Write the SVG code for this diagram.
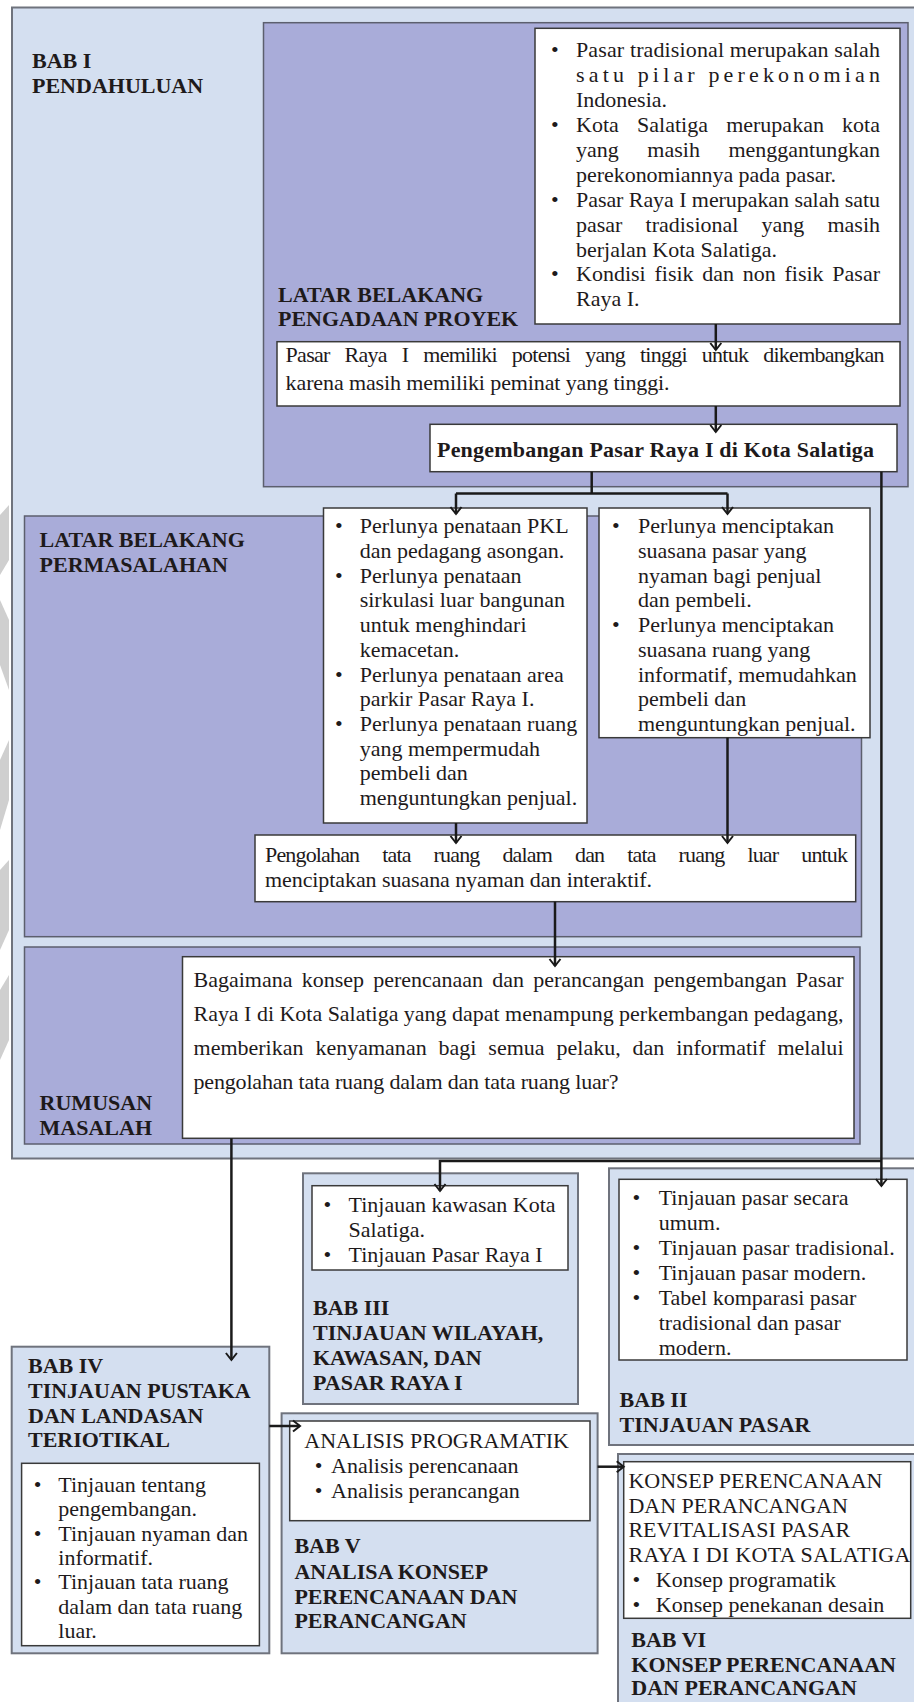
<svg xmlns="http://www.w3.org/2000/svg" width="914" height="1702" viewBox="0 0 914 1702">
<style>
.blue{fill:#d4dff0;stroke:#6f737d;stroke-width:2}
.purple{fill:#a9acd9;stroke:#5c5f6e;stroke-width:1.5}
.white{fill:#ffffff;stroke:#3a3a3a;stroke-width:1.5}
.h{font-family:"Liberation Serif",serif;font-weight:bold;font-size:22px;fill:#1e1a1b}
.t{font-family:"Liberation Serif",serif;font-size:22px;fill:#1e1a1b}
.c{fill:none;stroke:#1a1a1a;stroke-width:2.5}
.wm{fill:#cfcfcf}
</style>
<defs>
<marker id="ah" viewBox="-9 -7 11 14" refX="0" refY="0" markerWidth="11" markerHeight="14" markerUnits="userSpaceOnUse" orient="auto">
<path d="M-7,-5.5 L0,0 L-7,5.5" fill="none" stroke="#1a1a1a" stroke-width="2"/>
</marker>
</defs>
<rect x="0" y="0" width="914" height="1702" fill="#ffffff"/>
<g id="watermark">
<path class="wm" d="M0,515 L9,505 L9,560 L0,575 Z"/>
<path class="wm" d="M0,600 L9,620 L9,690 L0,665 Z"/>
<path class="wm" d="M0,760 L9,740 L9,800 L0,830 Z"/>
<path class="wm" d="M0,870 L9,860 L9,930 L0,950 Z"/>
<path class="wm" d="M0,990 L9,975 L9,1040 L0,1060 Z"/>
</g>
<g id="bab1">
<rect class="blue" x="12" y="7.5" width="920" height="1151"/>
<text class="h" x="32" y="68">BAB I</text>
<text class="h" x="32" y="93">PENDAHULUAN</text>
</g>
<g id="pengadaan">
<rect class="purple" x="263.5" y="22.7" width="644.5" height="464"/>
<text class="h" x="278" y="301.7">LATAR BELAKANG</text>
<text class="h" x="278" y="326">PENGADAAN PROYEK</text>
</g>
<g id="latar-list">
<rect class="white" x="535" y="28.3" width="365" height="295.7"/>
<text class="t" x="551" y="57.3">•</text>
<text class="t" x="576" y="57.3" textLength="304" lengthAdjust="spacing">Pasar tradisional merupakan salah</text>
<text class="t" x="576" y="82.2" textLength="304" lengthAdjust="spacing">satu pilar perekonomian</text>
<text class="t" x="576" y="107.1">Indonesia.</text>
<text class="t" x="551" y="132">•</text>
<text class="t" x="576" y="132" word-spacing="12.7" textLength="304" lengthAdjust="spacing">Kota Salatiga merupakan kota</text>
<text class="t" x="576" y="156.9" word-spacing="23" textLength="304" lengthAdjust="spacing">yang masih menggantungkan</text>
<text class="t" x="576" y="181.8" textLength="260" lengthAdjust="spacing">perekonomiannya pada pasar.</text>
<text class="t" x="551" y="206.7">•</text>
<text class="t" x="576" y="206.7" textLength="304" lengthAdjust="spacing">Pasar Raya I merupakan salah satu</text>
<text class="t" x="576" y="231.6" word-spacing="17.6" textLength="304" lengthAdjust="spacing">pasar tradisional yang masih</text>
<text class="t" x="576" y="256.5" textLength="201" lengthAdjust="spacing">berjalan Kota Salatiga.</text>
<text class="t" x="551" y="281.4">•</text>
<text class="t" x="576" y="281.4" word-spacing="3.2" textLength="304" lengthAdjust="spacing">Kondisi fisik dan non fisik Pasar</text>
<text class="t" x="576" y="306.3">Raya I.</text>
</g>
<g id="potensi">
<rect class="white" x="277" y="341.7" width="623" height="64.3"/>
<text class="t" x="285.6" y="362" word-spacing="10.2" textLength="599" lengthAdjust="spacing">Pasar Raya I memiliki potensi yang tinggi untuk dikembangkan</text>
<text class="t" x="285.6" y="390" textLength="384" lengthAdjust="spacing">karena masih memiliki peminat yang tinggi.</text>
</g>
<g id="pengembangan">
<rect class="white" x="430" y="424.3" width="467" height="47.4"/>
<text class="h" x="437" y="456.7" textLength="437" lengthAdjust="spacing">Pengembangan Pasar Raya I di Kota Salatiga</text>
</g>
<g id="permasalahan">
<rect class="purple" x="24.5" y="516" width="837" height="420.7"/>
<text class="h" x="39.6" y="546.7">LATAR BELAKANG</text>
<text class="h" x="39.6" y="571.7">PERMASALAHAN</text>
</g>
<g id="penataan-list">
<rect class="white" x="323.5" y="508" width="263.5" height="315"/>
<text class="t" x="335" y="533.3">•</text>
<text class="t" x="359.7" y="533.3">Perlunya penataan PKL</text>
<text class="t" x="359.7" y="558">dan pedagang asongan.</text>
<text class="t" x="335" y="582.7">•</text>
<text class="t" x="359.7" y="582.7">Perlunya penataan</text>
<text class="t" x="359.7" y="607.4">sirkulasi luar bangunan</text>
<text class="t" x="359.7" y="632.1">untuk menghindari</text>
<text class="t" x="359.7" y="656.8">kemacetan.</text>
<text class="t" x="335" y="681.5">•</text>
<text class="t" x="359.7" y="681.5">Perlunya penataan area</text>
<text class="t" x="359.7" y="706.2">parkir Pasar Raya I.</text>
<text class="t" x="335" y="730.9">•</text>
<text class="t" x="359.7" y="730.9">Perlunya penataan ruang</text>
<text class="t" x="359.7" y="755.6">yang mempermudah</text>
<text class="t" x="359.7" y="780.3">pembeli dan</text>
<text class="t" x="359.7" y="805">menguntungkan penjual.</text>
</g>
<g id="suasana-list">
<rect class="white" x="599" y="508" width="271" height="229.7"/>
<text class="t" x="612" y="533.3">•</text>
<text class="t" x="638" y="533.3">Perlunya menciptakan</text>
<text class="t" x="638" y="558">suasana pasar yang</text>
<text class="t" x="638" y="582.7">nyaman bagi penjual</text>
<text class="t" x="638" y="607.4">dan pembeli.</text>
<text class="t" x="612" y="632.1">•</text>
<text class="t" x="638" y="632.1">Perlunya menciptakan</text>
<text class="t" x="638" y="656.8">suasana ruang yang</text>
<text class="t" x="638" y="681.5">informatif, memudahkan</text>
<text class="t" x="638" y="706.2">pembeli dan</text>
<text class="t" x="638" y="730.9">menguntungkan penjual.</text>
</g>
<g id="pengolahan">
<rect class="white" x="255" y="835" width="600.7" height="66.7"/>
<text class="t" x="265" y="861.7" word-spacing="18.3" textLength="583" lengthAdjust="spacing">Pengolahan tata ruang dalam dan tata ruang luar untuk</text>
<text class="t" x="265" y="886.7" textLength="387" lengthAdjust="spacing">menciptakan suasana nyaman dan interaktif.</text>
</g>
<g id="rumusan">
<rect class="purple" x="24.5" y="947" width="835.5" height="197"/>
<text class="h" x="39.6" y="1110">RUMUSAN</text>
<text class="h" x="39.6" y="1135">MASALAH</text>
</g>
<g id="rumusan-text">
<rect class="white" x="182.5" y="956.7" width="671.5" height="181.6"/>
<text class="t" x="193.5" y="986.7" word-spacing="3.7" textLength="650" lengthAdjust="spacing">Bagaimana konsep perencanaan dan perancangan pengembangan Pasar</text>
<text class="t" x="193.5" y="1021" textLength="650" lengthAdjust="spacingAndGlyphs">Raya I di Kota Salatiga yang dapat menampung perkembangan pedagang,</text>
<text class="t" x="193.5" y="1055" word-spacing="6.4" textLength="650" lengthAdjust="spacing">memberikan kenyamanan bagi semua pelaku, dan informatif melalui</text>
<text class="t" x="193.5" y="1089" textLength="425" lengthAdjust="spacing">pengolahan tata ruang dalam dan tata ruang luar?</text>
</g>
<g id="bab3">
<rect class="blue" x="303" y="1173.3" width="275" height="230.7"/>
<rect class="white" x="312" y="1185.7" width="256" height="84.3"/>
<text class="t" x="323.5" y="1211.7">•</text>
<text class="t" x="348.6" y="1211.7">Tinjauan kawasan Kota</text>
<text class="t" x="348.6" y="1236.7">Salatiga.</text>
<text class="t" x="323.5" y="1261.7">•</text>
<text class="t" x="348.6" y="1261.7">Tinjauan Pasar Raya I</text>
<text class="h" x="313" y="1315">BAB III</text>
<text class="h" x="313" y="1340">TINJAUAN WILAYAH,</text>
<text class="h" x="313" y="1365">KAWASAN, DAN</text>
<text class="h" x="313" y="1390">PASAR RAYA I</text>
</g>
<g id="bab2">
<rect class="blue" x="609" y="1168.3" width="320" height="276.7"/>
<rect class="white" x="619" y="1179.3" width="288" height="180.7"/>
<text class="t" x="632.5" y="1205">•</text>
<text class="t" x="658.7" y="1205">Tinjauan pasar secara</text>
<text class="t" x="658.7" y="1230">umum.</text>
<text class="t" x="632.5" y="1255">•</text>
<text class="t" x="658.7" y="1255" textLength="236" lengthAdjust="spacing">Tinjauan pasar tradisional.</text>
<text class="t" x="632.5" y="1280">•</text>
<text class="t" x="658.7" y="1280">Tinjauan pasar modern.</text>
<text class="t" x="632.5" y="1305">•</text>
<text class="t" x="658.7" y="1305">Tabel komparasi pasar</text>
<text class="t" x="658.7" y="1330">tradisional dan pasar</text>
<text class="t" x="658.7" y="1355">modern.</text>
<text class="h" x="619.6" y="1406.7">BAB II</text>
<text class="h" x="619.6" y="1431.7">TINJAUAN PASAR</text>
</g>
<g id="bab4">
<rect class="blue" x="11.7" y="1346.7" width="257.6" height="306.6"/>
<text class="h" x="28" y="1373.3">BAB IV</text>
<text class="h" x="28" y="1398.3">TINJAUAN PUSTAKA</text>
<text class="h" x="28" y="1423.3">DAN LANDASAN</text>
<text class="h" x="28" y="1447.3">TERIOTIKAL</text>
<rect class="white" x="21.6" y="1463.3" width="237.8" height="182.4"/>
<text class="t" x="33.8" y="1491.7">•</text>
<text class="t" x="58.3" y="1491.7">Tinjauan tentang</text>
<text class="t" x="58.3" y="1516.1">pengembangan.</text>
<text class="t" x="33.8" y="1540.5">•</text>
<text class="t" x="58.3" y="1540.5">Tinjauan nyaman dan</text>
<text class="t" x="58.3" y="1564.9">informatif.</text>
<text class="t" x="33.8" y="1589.3">•</text>
<text class="t" x="58.3" y="1589.3">Tinjauan tata ruang</text>
<text class="t" x="58.3" y="1613.7">dalam dan tata ruang</text>
<text class="t" x="58.3" y="1638.1">luar.</text>
</g>
<g id="bab5">
<rect class="blue" x="281.6" y="1413.3" width="316" height="240"/>
<rect class="white" x="289.7" y="1421" width="300.3" height="99.7"/>
<text class="t" x="304.3" y="1448.3">ANALISIS PROGRAMATIK</text>
<text class="t" x="314.8" y="1473.3">•</text>
<text class="t" x="331" y="1473.3">Analisis perencanaan</text>
<text class="t" x="314.8" y="1498.3">•</text>
<text class="t" x="331" y="1498.3">Analisis perancangan</text>
<text class="h" x="294.4" y="1553.3">BAB V</text>
<text class="h" x="294.4" y="1579">ANALISA KONSEP</text>
<text class="h" x="294.4" y="1604">PERENCANAAN DAN</text>
<text class="h" x="294.4" y="1628.3">PERANCANGAN</text>
</g>
<g id="bab6">
<rect class="blue" x="618" y="1454" width="320" height="260"/>
<rect class="white" x="623.7" y="1461.7" width="287" height="156.6"/>
<text class="t" x="628.4" y="1488.3">KONSEP PERENCANAAN</text>
<text class="t" x="628.4" y="1513.3">DAN PERANCANGAN</text>
<text class="t" x="628.4" y="1537.3">REVITALISASI PASAR</text>
<text class="t" x="628.4" y="1561.7" textLength="282" lengthAdjust="spacing">RAYA I DI KOTA SALATIGA</text>
<text class="t" x="632.5" y="1586.7">•</text>
<text class="t" x="655.8" y="1586.7">Konsep programatik</text>
<text class="t" x="632.5" y="1611.7">•</text>
<text class="t" x="655.8" y="1611.7">Konsep penekanan desain</text>
<text class="h" x="631.3" y="1646.7">BAB VI</text>
<text class="h" x="631.3" y="1671.7">KONSEP PERENCANAAN</text>
<text class="h" x="631.3" y="1695">DAN PERANCANGAN</text>
</g>
<g id="connectors">
<path class="c" d="M715.8,324 V350" marker-end="url(#ah)"/>
<path class="c" d="M715.8,406 V432" marker-end="url(#ah)"/>
<path class="c" d="M591.7,471.7 V493.5"/>
<path class="c" d="M456,493.5 H727.5"/>
<path class="c" d="M456,493.5 V514" marker-end="url(#ah)"/>
<path class="c" d="M727.5,493.5 V514" marker-end="url(#ah)"/>
<path class="c" d="M881.4,471.7 V1186" marker-end="url(#ah)"/>
<path class="c" d="M881.4,1161 H440 V1191" marker-end="url(#ah)"/>
<path class="c" d="M456,823 V843" marker-end="url(#ah)"/>
<path class="c" d="M727.5,737.7 V843" marker-end="url(#ah)"/>
<path class="c" d="M555,901.7 V966" marker-end="url(#ah)"/>
<path class="c" d="M231.4,1138.3 V1360" marker-end="url(#ah)"/>
<path class="c" d="M269.3,1426 H300" marker-end="url(#ah)"/>
<path class="c" d="M597.6,1466.7 H623.7" marker-end="url(#ah)"/>
</g>
</svg>
